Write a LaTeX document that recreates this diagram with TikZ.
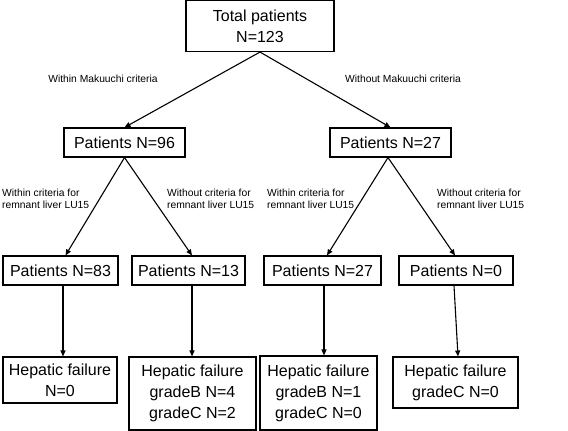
\documentclass[tikz,border=0pt]{standalone}
\usepackage{fontspec}
\setmainfont{Liberation Sans}
\usetikzlibrary{arrows.meta}
\begin{document}
\begin{tikzpicture}[x=1pt,y=-1pt,
  box/.style={draw=black,line width=1.1pt,inner sep=0pt,align=center,font=\fontsize{16}{21}\selectfont},
  lbl/.style={inner sep=0pt,align=left,font=\fontsize{10.3}{12.5}\selectfont},
  arr/.style={line width=1.1pt,-{Triangle[length=6pt,width=5pt]}}]
\useasboundingbox (0,0) rectangle (568,431);
\node[box,minimum width=148pt,minimum height=51pt] (top) at (260,26) {Total patients\\N=123};
\node[box,minimum width=121pt,minimum height=29pt] (p96) at (124.5,142.5) {Patients N=96};
\node[box,minimum width=121pt,minimum height=29pt] (p27) at (390.5,142.5) {Patients N=27};
\node[box,minimum width=115pt,minimum height=29pt] (p83) at (60.5,270.5) {Patients N=83};
\node[box,minimum width=113pt,minimum height=29pt] (p13) at (188.5,270.5) {Patients N=13};
\node[box,minimum width=117pt,minimum height=29pt] (p27b) at (322.5,270.5) {Patients N=27};
\node[box,minimum width=114pt,minimum height=29pt] (p0) at (456,270.5) {Patients N=0};
\node[box,minimum width=114pt,minimum height=46pt] (h1) at (60,380) {Hepatic failure\\N=0};
\node[box,minimum width=127pt,minimum height=73pt] (h2) at (192.5,393.5) {Hepatic failure\\gradeB N=4\\gradeC N=2};
\node[box,minimum width=117pt,minimum height=74pt] (h3) at (318.5,393) {Hepatic failure\\gradeB N=1\\gradeC N=0};
\node[box,minimum width=125pt,minimum height=51pt] (h4) at (455.5,382.5) {Hepatic failure\\gradeC N=0};
\node[lbl] (l1) at (103,79) {Within Makuuchi criteria};
\node[lbl] (l2) at (403,79) {Without Makuuchi criteria};
\node[lbl,anchor=west] (l3) at (2,199) {Within criteria for\\remnant liver LU15};
\node[lbl,anchor=west] (l4) at (167,199) {Without criteria for\\remnant liver LU15};
\node[lbl,anchor=west] (l5) at (267,199) {Within criteria for\\remnant liver LU15};
\node[lbl,anchor=west] (l6) at (437,199) {Without criteria for\\remnant liver LU15};
\draw[arr] (top.south) -- (p96.north);
\draw[arr] (top.south) -- (p27.north);
\draw[arr] (p96.south) -- ([xshift=5pt]p83.north);
\draw[arr] (p96.south) -- ([xshift=3.5pt]p13.north);
\draw[arr] ([xshift=-2.5pt]p27.south) -- ([xshift=4.5pt]p27b.north);
\draw[arr] ([xshift=-2.5pt]p27.south) -- ([xshift=-1pt]p0.north);
\draw[arr] ([xshift=2.5pt]p83.south) -- ([xshift=3pt]h1.north);
\draw[arr] ([xshift=3.5pt]p13.south) -- ([xshift=-0.5pt]h2.north);
\draw[arr] ([xshift=1.5pt]p27b.south) -- ([xshift=5.5pt]h3.north);
\draw[arr] ([xshift=-2pt]p0.south) -- ([xshift=2.5pt]h4.north);
\end{tikzpicture}
\end{document}
